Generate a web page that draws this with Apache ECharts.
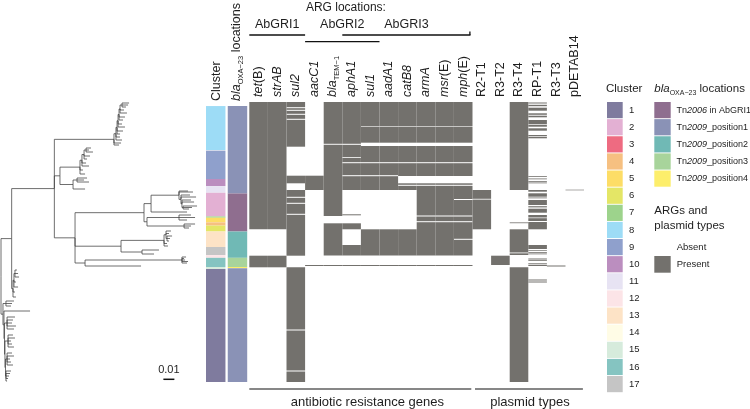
<!DOCTYPE html>
<html><head><meta charset="utf-8">
<script src="https://cdn.jsdelivr.net/npm/echarts@6/dist/echarts.min.js"></script>
<style>html,body{margin:0;padding:0;background:#fff}#c{width:750px;height:409px}</style>
</head><body><div id="c"></div>
<script>
// ================= DATA =================
// Row positions run from 0 (top isolate) to 280 (bottom isolate), in tree order.
const annotationColumns = ['Cluster', 'blaOXA-23 locations'];
const markerColumns = ['tet(B)','strAB','sul2','aacC1','blaTEM-1','aphA1','sul1','aadA1','catB8','armA','msr(E)','mph(E)',
  'R2-T1','R3-T2','R3-T4','RP-T1','R3-T3','pDETAB14'];
const clusterNames = ['1','2','3','4','5','6','7','8','9','10','11','12','13','14','15','16','17'];
const clusterColors = ['#7f7b9e','#e3b0d3','#ee6b81','#f6c081','#fddd66','#e4e666','#9dd38c','#9ddcf6','#8fa0cc',
  '#bb8ebf','#e7e3f3','#fce4e7','#fde3c6','#fffce6','#d6ebdc','#85c4c1','#c5c5c5'];
const blaLocationNames = ['Tn2006 in AbGRI1','Tn2009_position1','Tn2009_position2','Tn2009_position3','Tn2009_position4'];
const blaLocationColors = ['#8f6e8f','#8a92b6','#70b9b5','#a8d49b','#fdee6b'];

// [rowStart, rowEnd, cluster number]
const clusterSegments = [[0,44.6,8],[45.2,74,9],[74,81.3,10],[81.3,88,11],[88,112,2],[112,113.3,7],[113.3,118,5],
  [118,121.3,4],[121.3,127.3,6],[127.3,143,13],[143,151.3,17],[151.3,154,12],[154,163.3,16],[163.3,165.3,15],[165.3,280,1]];
// [rowStart, rowEnd, index in blaLocationNames]
const blaSegments = [[0,88.7,1],[88.7,127.3,0],[127.3,154,2],[154,163.3,3],[163.3,164.5,4],[164.5,280,1]];

// presence intervals [rowStart, rowEnd] per marker
const tetBRows   = [[0,127.3],[153.7,165.3]];
const strABRows  = [[0,127.3],[153.7,165.3]];
const sul2Rows   = [[0,5.2],[6.2,7.8],[8.8,11.8],[12.8,16.8],[17.8,44.7],[73.7,81.3],[88,94.8],[95.8,100.8],[101.8,111.8],
  [112.8,153.7],[165.3,227.5],[228.5,268.5],[269.5,280]];
const aacC1Rows  = [[73.7,88],[163,164]];
const blaTEM1Rows= [[0,41.8],[42.8,114],[121.3,153.5],[163,164]];
const aphA1Rows  = [[0,41.8],[42.8,55],[55.8,60.2],[61.2,73.2],[74.2,88],[112.3,113.3],[121.3,127.3],[143,153.5],[163,164]];
const sul1Rows   = [[0,24.4],[25,40.7],[44,60.2],[61.2,73.2],[74.2,88],[127.3,153.5],[163,164]];
const aadA1Rows  = [[0,24.4],[25,40.7],[44,60.2],[61.2,73.2],[74.2,88],[127.3,153.5],[163,164]];
const catB8Rows  = [[0,24.4],[25,40.7],[44,60.2],[61.2,74],[81.3,82.8],[83.8,88],[127.3,153.5],[163,164]];
const armARows   = [[0,24.4],[25,40.7],[44,60.2],[61.2,74],[81.3,82.8],[83.8,113.5],[114.5,119.2],[120.2,153.5],[163,164]];
const msrERows   = [[0,24.4],[25,40.7],[44,60.2],[61.2,74],[81.3,82.8],[83.8,113.5],[114.5,119.2],[120.2,153.5],[163,164]];
const mphERows   = [[0,24.4],[25,40.7],[44,60.2],[61.2,74],[81.3,82.8],[83.8,97],[98,113.5],[114.5,119.2],[120.2,136.8],
  [137.8,153.5],[163,164]];
const R2T1Rows   = [[88,96.8],[97.6,127.3]];
const R3T2Rows   = [[153.7,163]];
const R3T4Rows   = [[0,88],[120.4,121.2],[127.3,150.5],[151.3,153],[165.3,280]];
const RPT1Rows   = [[0.5,1.5],[2.8,4.2],[5.7,8.7],[11.3,12.8],[13.7,15.3],[18,22.3],[23,24.7],[26.3,28.7],[33,34.3],[35,36.3],
  [74,74.8],[76.5,77.3],[79,79.8],[80.5,81.3],[88,89.7],[91.3,94.7],[95.5,96.3],[98,103],[104,104.8],[105.6,106.3],[107,110.7],
  [113,115.5],[116.2,119],[120,127.3],[143,147],[148.3,149],[150,150.8],[151.5,152.3],[156.5,157.5],[158.2,159],
  [161.3,162.3],[163,164],[177.5,178.5],[179.5,180.5]];
const R3T3Rows   = [[163.5,164.5]];
const pDETAB14Rows = [[87.7,88.3]];

// phylogeny: [node id, parent id, root-to-node distance (subs/site), leaf row (null for internal nodes)]
const treeNodes = [
 ['R',null,0,null],['Q','R',0.0097,null],['N1','Q',0.0485,null],
 ['C8','N1',0.1027,null],['t1','C8',0.1073,43],['t1b','C8',0.1091,41],['A1','C8',0.1045,null],['t2','A1',0.1100,38],
 ['t2b','A1',0.1082,35],['A2','A1',0.1055,null],['t3','A2',0.1082,32],['t3b','A2',0.1109,29],['A3','A2',0.1064,null],
 ['t4','A3',0.1127,25],['t4b','A3',0.1100,22],['A4','A3',0.1073,null],['t5','A4',0.1109,18],['t5b','A4',0.1127,15],
 ['A5','A4',0.1082,null],['t6','A5',0.1145,11],['t6b','A5',0.1118,8],['A6','A5',0.1100,null],['t7','A6',0.1136,5],
 ['t7b','A6',0.1155,3],['t8','A6',0.1164,1],
 ['B','N1',0.0536,null],['B1','B',0.0718,null],['t9','B1',0.0764,72],['t9b','B1',0.0745,68],['B1a','B1',0.0736,null],
 ['t10','B1a',0.0800,64],['t10b','B1a',0.0773,61],['B1b','B1a',0.0755,null],['t11','B1b',0.0782,57],['t11b','B1b',0.0809,54],
 ['B1c','B1b',0.0773,null],['t12','B1c',0.0836,50],['t12b','B1c',0.0800,48],['t13','B1c',0.0818,46],
 ['B2','B',0.0655,null],['t14','B2',0.0764,87],['B2a','B2',0.0691,null],['t15','B2a',0.0800,80],['t15b','B2a',0.0755,78],
 ['t16','B2a',0.0782,76],
 ['C','N1',0.0673,null],['P','C',0.1300,null],['P1','P',0.1364,null],['t17','P1',0.1691,110],['P1a','P1',0.1618,null],
 ['t18','P1a',0.1745,90],['t18b','P1a',0.1700,89],['P1b','P1a',0.1636,null],['t19','P1b',0.1773,95],['t19b','P1b',0.1718,93],
 ['P1c','P1b',0.1645,null],['t20','P1c',0.1755,100],['t20b','P1c',0.1727,98],
 ['P1d','P1c',0.1655,null],['t21','P1d',0.1782,104],['t21b','P1d',0.1736,105.5],['t22','P1d',0.1709,107],
 ['P2','P',0.1327,null],['P2a','P2',0.1618,null],['t23','P2a',0.1727,113],['t23b','P2a',0.1764,115.5],['t24','P2a',0.1691,118],
 ['P2b','P2',0.1664,null],['t25','P2b',0.1764,122],['t25b','P2b',0.1727,124],['t26','P2b',0.1709,126],
 ['M','C',0.1091,null],['M1','M',0.1482,null],['t27','M1',0.1518,144],['t27b','M1',0.1509,141.5],['M1a','M1',0.1500,null],
 ['t28','M1a',0.1545,129],['t28b','M1a',0.1527,131.5],
 ['M1b','M1a',0.1509,null],['t29','M1b',0.1555,134],['t29b','M1b',0.1536,136.5],['t30','M1b',0.1527,139],
 ['M2','M',0.1282,null],['t31','M2',0.1436,148],['t32','M2',0.1391,152],
 ['T0','C',0.0764,null],['T','T0',0.1645,null],['t33','T',0.1682,155],['t33b','T',0.1664,156.5],['t34','T',0.1673,158],
 ['t34b','T',0.1700,159.5],['t35','T',0.1691,161],
 ['t36','T0',0.1273,164],
 ['K1','Q',0.0109,null],['t37','K1',0.0136,195],['t37b','K1',0.0127,190],['K1a','K1',0.0118,null],['t38','K1a',0.0155,185],
 ['t38b','K1a',0.0136,180],['K1b','K1a',0.0127,null],['t39','K1b',0.0164,175],['t39b','K1b',0.0155,171.5],['t40','K1b',0.0145,168],
 ['R1','R',0.0018,null],['K2','R1',0.0045,null],['t41','K2',0.0118,199],['t41b','K2',0.0100,201.5],['t42','K2',0.0091,204],
 ['R2','R1',0.0027,null],['t43','R2',0.0264,209],['R3','R2',0.0032,null],
 ['K3','R3',0.0055,null],['t44','K3',0.0127,215],['t44b','K3',0.0109,218],['t45','K3',0.0100,221],['t45b','K3',0.0136,224],
 ['t46','K3',0.0118,227],
 ['R4','R3',0.0036,null],['K4','R4',0.0064,null],['t47','K4',0.0109,233],['t47b','K4',0.0127,236],['t48','K4',0.0091,239],
 ['t48b','K4',0.0100,242],['t49','K4',0.0118,245],
 ['R5','R4',0.0041,null],['K5','R5',0.0055,null],['t50','K5',0.0100,251],['t50b','K5',0.0118,254],['t51','K5',0.0082,257],
 ['t51b','K5',0.0091,260],['t52','K5',0.0109,263],
 ['K6','R5',0.0045,null],['t53','K6',0.0091,269],['t53b','K6',0.0082,271.5],['t54','K6',0.0073,274],['t54b','K6',0.0064,276.5],
 ['t55','K6',0.0055,279]
];
const scaleBarLength = 0.01;

const argLocations = [
  {name:'AbGRI1', first:'tet(B)', last:'sul2', level:0},
  {name:'AbGRI2', first:'aacC1', last:'sul1', level:1},
  {name:'AbGRI3', first:'aphA1', last:'mph(E)', level:0}
];
const markerGroups = [
  {name:'antibiotic resistance genes', first:'tet(B)', last:'mph(E)'},
  {name:'plasmid types', first:'R2-T1', last:'pDETAB14'}
];
const presenceLegend = ['Absent','Present'];

// ================= BUILD =================
const GRAY = '#73716d';
const FONT = '"Liberation Sans", Arial, Helvetica, sans-serif';
const TXT = '#1e1e1e';
const rowsByMarker = [tetBRows,strABRows,sul2Rows,aacC1Rows,blaTEM1Rows,aphA1Rows,sul1Rows,aadA1Rows,catB8Rows,armARows,
  msrERows,mphERows,R2T1Rows,R3T2Rows,R3T4Rows,RPT1Rows,R3T3Rows,pDETAB14Rows];

const heatData = [];
rowsByMarker.forEach((list, ci) => list.forEach(([a, b]) => heatData.push([ci, a, b])));
const annoData = [];
clusterSegments.forEach(([a, b, k]) => annoData.push([0, a, b, k - 1]));
blaSegments.forEach(([a, b, k]) => annoData.push([1, a, b, k]));

// tree layout (rectangular, internal node row = midpoint of extreme children)
const nodeMap = {};
treeNodes.forEach(([id, parent, depth, row]) => { nodeMap[id] = {id, parent, depth, row, children: []}; });
let root = null;
treeNodes.forEach(([id, parent]) => { if (parent === null) root = nodeMap[id]; else nodeMap[parent].children.push(nodeMap[id]); });
function setRow(n) {
  if (!n.children.length) return n.row;
  const rs = n.children.map(setRow);
  n.row = (Math.min(...rs) + Math.max(...rs)) / 2;
  return n.row;
}
setRow(root);
const treeEdges = [];
Object.values(nodeMap).forEach(n => {
  if (n.parent !== null) { const p = nodeMap[n.parent]; treeEdges.push([p.depth, p.row, n.depth, n.row]); }
});

const markerLabel = {
  'tet(B)':'{i|tet}(B)','strAB':'{i|strAB}','sul2':'{i|sul2}','aacC1':'{i|aacC1}','blaTEM-1':'{i|bla}{s|TEM−1}',
  'aphA1':'{i|aphA1}','sul1':'{i|sul1}','aadA1':'{i|aadA1}','catB8':'{i|catB8}','armA':'{i|armA}',
  'msr(E)':'{i|msr}(E)','mph(E)':'{i|mph}(E)','blaOXA-23 locations':'{i|bla}{s|OXA−23} locations'
};
const labelRich = {
  i: {fontStyle:'italic', fontFamily:FONT, fontSize:12.5, color:TXT, lineHeight:15},
  s: {fontFamily:FONT, fontSize:7.5, color:TXT, lineHeight:8, verticalAlign:'bottom'}
};
function topAxis(gridIndex, data) {
  return {
    gridIndex, type:'category', data, position:'top',
    axisLine:{show:false}, axisTick:{show:false}, splitLine:{show:false},
    axisLabel:{rotate:90, margin:5, interval:0, fontFamily:FONT, fontSize:12.5, color:TXT, lineHeight:15,
      formatter: v => markerLabel[v] || v, rich: labelRich}
  };
}

const option = {
  animation:false,
  backgroundColor:'#ffffff',
  grid:[
    {left:1, top:102, width:200, height:280},
    {left:206, top:102, width:41.3, height:280},
    {left:249.3, top:102, width:334.8, height:280}
  ],
  xAxis:[
    {gridIndex:0, type:'value', min:0, max:0.1818, show:false},
    topAxis(1, annotationColumns),
    topAxis(2, markerColumns)
  ],
  yAxis:[0,1,2].map(g => ({gridIndex:g, type:'value', min:0, max:280, inverse:true, show:false})),
  series:[
    {
      type:'custom', xAxisIndex:0, yAxisIndex:0, data:treeEdges, encode:{x:[0,2], y:[1,3]},
      renderItem:(params, api) => {
        const p0 = api.coord([api.value(0), api.value(1)]);
        const p1 = api.coord([api.value(0), api.value(3)]);
        const p2 = api.coord([api.value(2), api.value(3)]);
        return {type:'polyline', shape:{points:[p0, p1, p2]}, style:{stroke:'#3f3f3f', lineWidth:0.75, fill:null}};
      }
    },
    {
      type:'custom', xAxisIndex:0, yAxisIndex:0, data:[[0.1476, scaleBarLength, 277.3]], encode:{x:[0], y:[2]},
      renderItem:(params, api) => {
        const a = api.coord([api.value(0), api.value(2)]);
        const b = api.coord([api.value(0) + api.value(1), api.value(2)]);
        return {type:'group', children:[
          {type:'line', shape:{x1:a[0], y1:a[1], x2:b[0], y2:b[1]}, style:{stroke:'#111', lineWidth:1.5}},
          {type:'text', style:{text:String(api.value(1)), x:(a[0]+b[0])/2, y:a[1]-9, align:'center', verticalAlign:'middle',
            fontFamily:FONT, fontSize:11, fill:TXT}}
        ]};
      }
    },
    {
      type:'custom', xAxisIndex:1, yAxisIndex:1, data:annoData, encode:{x:0, y:[1,2]},
      renderItem:(params, api) => {
        const col = api.value(0);
        const t = api.coord([col, api.value(1)]);
        const b = api.coord([col, api.value(2)]);
        const bw = api.size([1, 0])[0];
        const left = t[0] - bw / 2 + (col === 0 ? 0 : 1.1);
        const w = bw - 1.2;
        const fill = col === 0 ? clusterColors[api.value(3)] : blaLocationColors[api.value(3)];
        return {type:'rect', shape:{x:left, y:t[1], width:w, height:b[1]-t[1]}, style:{fill}};
      }
    },
    {
      type:'custom', xAxisIndex:2, yAxisIndex:2, data:heatData, encode:{x:0, y:[1,2]},
      renderItem:(params, api) => {
        const t = api.coord([api.value(0), api.value(1)]);
        const b = api.coord([api.value(0), api.value(2)]);
        const bw = api.size([1, 0])[0];
        return {type:'rect', shape:{x:t[0]-bw/2, y:t[1], width:bw, height:b[1]-t[1]}, style:{fill:GRAY}};
      }
    }
  ]
};

const chart = echarts.init(document.getElementById('c'));
chart.setOption(option);

// ---------- annotations computed from axes ----------
const bw = 334.8 / markerColumns.length;
const colLeft = name => chart.convertToPixel({xAxisIndex:2}, markerColumns.indexOf(name)) - bw / 2;
const colRight = name => chart.convertToPixel({xAxisIndex:2}, markerColumns.indexOf(name)) + bw / 2;
const graphics = [];
const txt = (text, x, y, o) => Object.assign({type:'text', silent:true, style:Object.assign({text, x, y, fontFamily:FONT,
  fontSize:12, fill:TXT, align:'left', verticalAlign:'middle'}, o || {})});

// ARG locations header
const hdrLeft = colLeft(argLocations[0].first), hdrRight = colRight(argLocations[2].last);
graphics.push(txt('ARG locations:', (hdrLeft + hdrRight) / 2 - 15, 8, {align:'center', fontSize:12}));
argLocations.forEach(g => {
  const x1 = colLeft(g.first), x2 = colRight(g.last) - (g.last === 'mph(E)' ? 2 : 0);
  const y = g.level === 0 ? 35 : 41.7;
  graphics.push({type:'line', silent:true, shape:{x1, y1:y, x2, y2:y}, style:{stroke:'#111', lineWidth:1.3}});
  graphics.push(txt(g.name, (x1 + x2) / 2, 25, {align:'center', fontSize:12.5}));
});
// tick at right end of AbGRI3
{
  const x = colRight('mph(E)') - 2.6;
  graphics.push({type:'line', silent:true, shape:{x1:x, y1:31.5, x2:x, y2:35}, style:{stroke:'#111', lineWidth:1.3}});
}
// bottom group brackets
markerGroups.forEach((g, i) => {
  const x1 = colLeft(g.first) + (i === 0 ? 0 : 2.5), x2 = colRight(g.last) - 1.2;
  graphics.push({type:'line', silent:true, shape:{x1, y1:389, x2, y2:389}, style:{stroke:'#111', lineWidth:1.2}});
  graphics.push(txt(g.name, (x1 + x2) / 2 + (i === 0 ? 7 : 1), 402, {align:'center', fontSize:13}));
});

// legends
const legRich = {
  i:{fontStyle:'italic', fontFamily:FONT, fontSize:9, fill:TXT},
  ti:{fontStyle:'italic', fontFamily:FONT, fontSize:11.5, fill:TXT, lineHeight:15},
  s:{fontFamily:FONT, fontSize:7, fill:TXT, lineHeight:7, verticalAlign:'bottom'}
};
const pitch = 17.125, boxH = 16.2;
const cx = 607, bx = 654.3, ly0 = 102;
graphics.push(txt('Cluster', cx - 1, 89, {fontSize:11.5}));
clusterNames.forEach((n, i) => {
  const y = ly0 + i * pitch;
  graphics.push({type:'rect', silent:true, shape:{x:cx, y, width:15.7, height:boxH}, style:{fill:clusterColors[i]}});
  graphics.push(txt(n, cx + 22, y + boxH / 2, {fontSize:9.5}));
});
graphics.push(txt('{ti|bla}{s|OXA−23} locations', bx, 89, {fontSize:11.5, rich:legRich, lineHeight:15}));
blaLocationNames.forEach((n, i) => {
  const y = ly0 + i * pitch;
  graphics.push({type:'rect', silent:true, shape:{x:bx, y, width:16.4, height:boxH}, style:{fill:blaLocationColors[i]}});
  const label = n.replace(/^Tn(\d+)/, 'Tn{i|$1}');
  graphics.push(txt(label, bx + 22.2, y + boxH / 2, {fontSize:9, rich:legRich}));
});
graphics.push(txt('ARGs and\nplasmid types', bx, 218.3, {fontSize:11.5, lineHeight:14.3}));
presenceLegend.forEach((n, i) => {
  const y = 239 + i * 17;
  graphics.push({type:'rect', silent:true, shape:{x:bx, y, width:16.4, height:16.7}, style:{fill: i === 0 ? '#ffffff' : GRAY}});
  graphics.push(txt(n, bx + 22.4, y + 8.4, {fontSize:9.5}));
});
chart.setOption({graphic:graphics});
</script>
</body></html>
